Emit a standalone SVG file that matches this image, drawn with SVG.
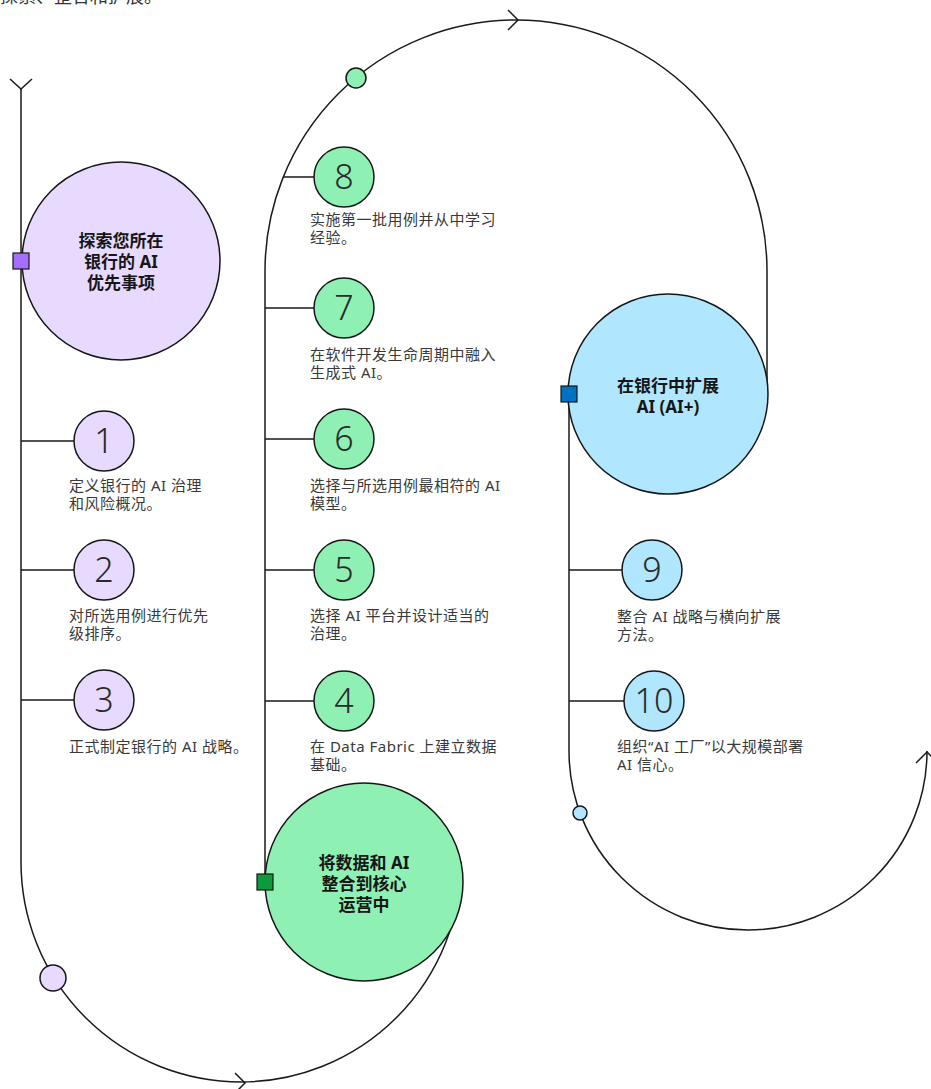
<svg xmlns="http://www.w3.org/2000/svg" width="931" height="1089" viewBox="0 0 931 1089">
<style>
.ln{fill:none;stroke:#1a1a1a;stroke-width:1.5}
.c{stroke:#161616;stroke-width:1.5}
.pu{fill:#e8daff}
.gr{fill:#8ff0b4}
.bl{fill:#b0e6fe}
.num{font-family:"Noto Sans","Liberation Sans",sans-serif;font-weight:300;font-size:34px;fill:#2a2a2a;text-anchor:middle}
.body{font-family:"Noto Sans","Noto Sans CJK SC",sans-serif;font-size:15px;letter-spacing:0.5px;fill:#393939}
.head{font-family:"Noto Sans","Noto Sans CJK SC",sans-serif;font-size:17px;font-weight:700;fill:#161616;text-anchor:middle}
</style>
<text x="0" y="3" style="font-family:'Noto Sans','Noto Sans CJK SC',sans-serif;font-size:18px;fill:#333">探索、整合和扩展。</text>
<g id="connectors">
<path class="ln" d="M21,89 V862 A220,220 0 0 0 461,862"/>
<path class="ln" d="M265,882 V271 A251,251 0 0 1 767,271 V393"/>
<path class="ln" d="M569,394 V751 A179,179 0 0 0 927,751"/>
<path class="ln" d="M10,79 L21,89 L32,79"/>
<path class="ln" d="M508,10 L518,20 L508,30"/>
<path class="ln" d="M235,1073 L245,1083 L235,1093"/>
<path class="ln" d="M916,763 L927,752 L938,763"/>
<path class="ln" d="M21,441 H74 M21,570 H74 M21,700 H74"/>
<path class="ln" d="M283,177 H314 M265,308 H314 M265,439 H314 M265,570 H314 M265,701 H314"/>
<path class="ln" d="M569,570 H622 M569,701 H624"/>
</g>
<g id="dot-purple"><circle class="c pu" cx="53" cy="978" r="13"/></g>
<g id="dot-green"><circle class="c gr" cx="356" cy="78" r="10"/></g>
<g id="dot-blue"><circle class="c bl" cx="580" cy="813" r="7"/></g>
<g id="stage-explore">
<circle class="c pu" cx="121" cy="261" r="99"/>
<rect x="13" y="253" width="16" height="16" fill="#a56eff" stroke="#161616" stroke-width="1.2"/>
<text class="head" x="121" y="247">探索您所在</text>
<text class="head" x="121" y="268">银行的 AI</text>
<text class="head" x="121" y="289">优先事项</text>
</g>
<g id="step-1"><circle class="c pu" cx="104" cy="441" r="30"/><text class="num" x="104" y="453">1</text>
<text class="body" x="69" y="491">定义银行的 AI 治理</text><text class="body" x="69" y="509">和风险概况。</text></g>
<g id="step-2"><circle class="c pu" cx="104" cy="570" r="30"/><text class="num" x="104" y="582">2</text>
<text class="body" x="69" y="621">对所选用例进行优先</text><text class="body" x="69" y="639">级排序。</text></g>
<g id="step-3"><circle class="c pu" cx="104" cy="700" r="30"/><text class="num" x="104" y="712">3</text>
<text class="body" x="69" y="752">正式制定银行的 AI 战略。</text></g>
<g id="stage-integrate">
<circle class="c gr" cx="364" cy="882" r="99"/>
<rect x="257" y="874" width="16" height="16" fill="#0e9a3c" stroke="#161616" stroke-width="1.2"/>
<text class="head" x="364" y="869">将数据和 AI</text>
<text class="head" x="364" y="890">整合到核心</text>
<text class="head" x="364" y="911">运营中</text>
</g>
<g id="step-4"><circle class="c gr" cx="344" cy="701" r="30"/><text class="num" x="344" y="713">4</text>
<text class="body" x="310" y="752">在 Data Fabric 上建立数据</text><text class="body" x="310" y="770">基础。</text></g>
<g id="step-5"><circle class="c gr" cx="344" cy="570" r="30"/><text class="num" x="344" y="582">5</text>
<text class="body" x="310" y="621">选择 AI 平台并设计适当的</text><text class="body" x="310" y="639">治理。</text></g>
<g id="step-6"><circle class="c gr" cx="344" cy="439" r="30"/><text class="num" x="344" y="451">6</text>
<text class="body" x="310" y="491">选择与所选用例最相符的 AI</text><text class="body" x="310" y="509">模型。</text></g>
<g id="step-7"><circle class="c gr" cx="344" cy="308" r="30"/><text class="num" x="344" y="320">7</text>
<text class="body" x="310" y="360">在软件开发生命周期中融入</text><text class="body" x="310" y="378">生成式 AI。</text></g>
<g id="step-8"><circle class="c gr" cx="344" cy="177" r="30"/><text class="num" x="344" y="189">8</text>
<text class="body" x="310" y="225">实施第一批用例并从中学习</text><text class="body" x="310" y="243">经验。</text></g>
<g id="stage-scale">
<circle class="c bl" cx="668" cy="394" r="100"/>
<rect x="561" y="386" width="16" height="16" fill="#0072c3" stroke="#161616" stroke-width="1.2"/>
<text class="head" x="668" y="392">在银行中扩展</text>
<text class="head" x="668" y="413">AI (AI+)</text>
</g>
<g id="step-9"><circle class="c bl" cx="652" cy="570" r="30"/><text class="num" x="652" y="582">9</text>
<text class="body" x="617" y="622">整合 AI 战略与横向扩展</text><text class="body" x="617" y="640">方法。</text></g>
<g id="step-10"><circle class="c bl" cx="654" cy="701" r="30"/><text class="num" x="654" y="713">10</text>
<text class="body" x="617" y="752">组织“AI 工厂”以大规模部署</text><text class="body" x="617" y="770">AI 信心。</text></g>
</svg>
